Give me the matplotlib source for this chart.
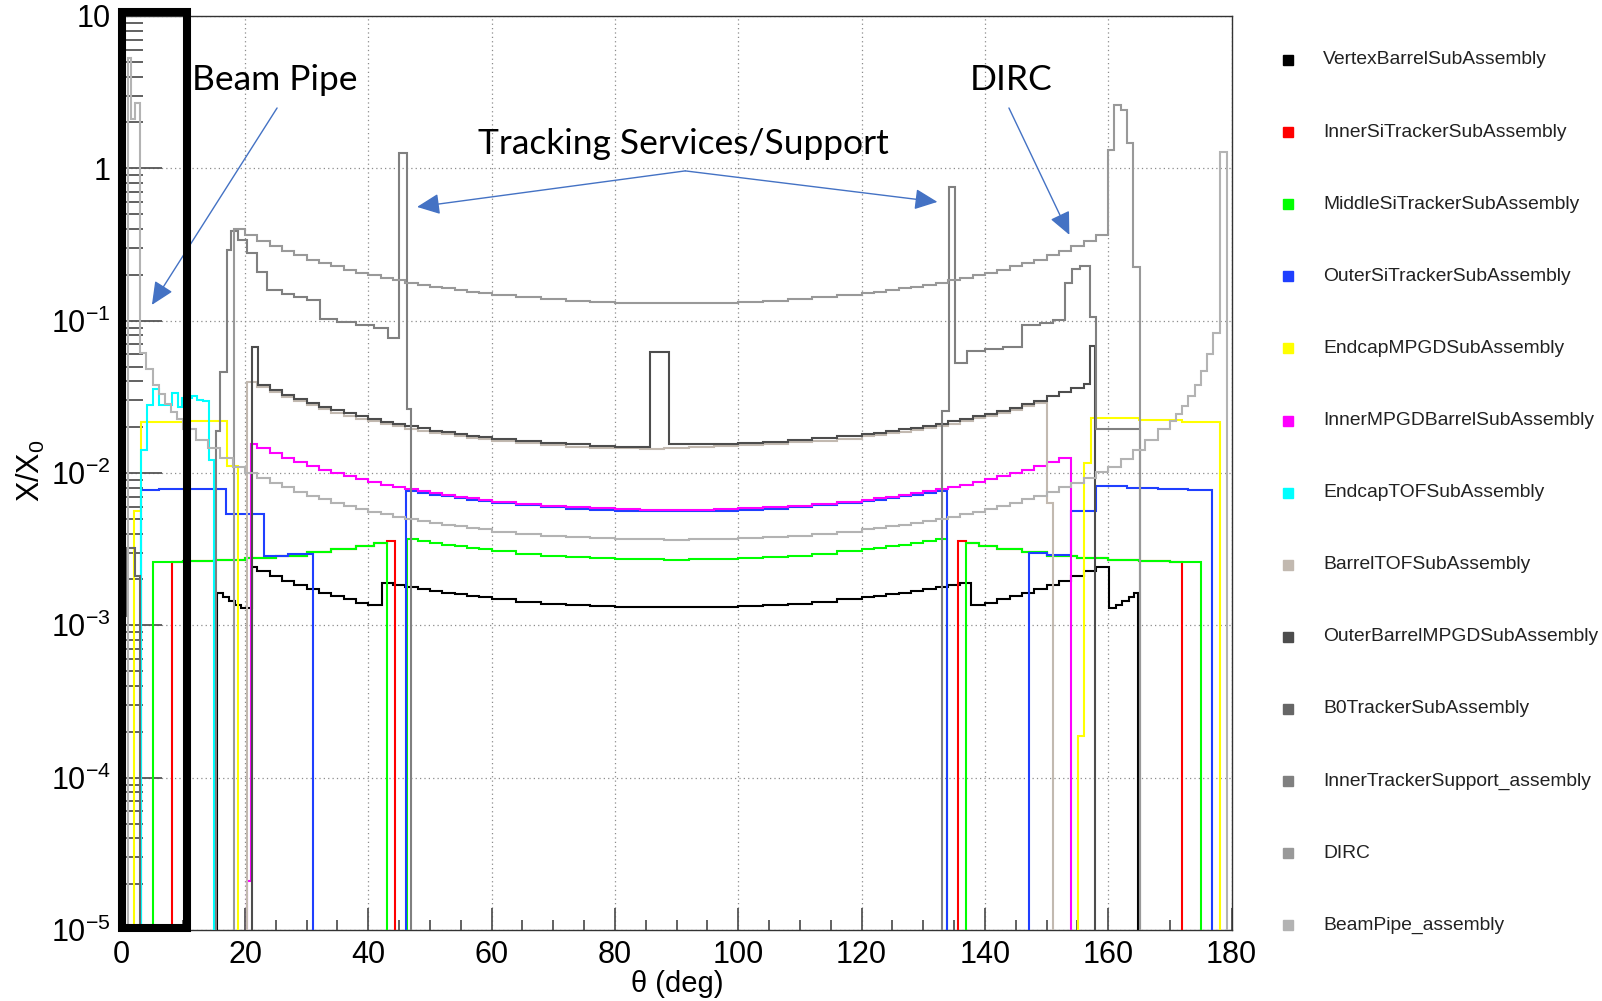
import numpy as np
import matplotlib
matplotlib.use("Agg")
import matplotlib.pyplot as plt
from matplotlib.lines import Line2D
from matplotlib.patches import Rectangle
from matplotlib.ticker import FixedLocator, LogLocator, NullFormatter, MultipleLocator

plt.rcParams['font.family'] = ['Liberation Sans', 'DejaVu Sans']
plt.rcParams['mathtext.fontset'] = 'custom'
plt.rcParams['mathtext.rm'] = 'Liberation Sans'
plt.rcParams['mathtext.it'] = 'Liberation Sans:italic'
plt.rcParams['mathtext.bf'] = 'Liberation Sans:bold'

# bin-edge grids (theta in deg)
G_L = list(range(22, 62, 2))    # 22..60
G_M = list(range(64, 124, 4))   # 64..120
G_R = list(range(122, 162, 2))  # 122..160

# all X/X0 values below are in units of 1e-3
vertex_edges = [0, 15.4, 16.4, 17.4, 18.4, 19.4, 21.1] + G_L[:10] + [42.2] + G_L[11:] + G_M \
    + G_R[:7] + [136, 137.8] + list(range(140, 160, 2)) + [160.2, 161.3, 162.3, 163.3, 164.2, 164.9, 180]
vertex_vals = [0, 1.64, 1.53, 1.45, 1.37, 1.30,
               2.42, 2.28, 2.11, 1.96, 1.84, 1.73, 1.63, 1.55, 1.48, 1.41, 1.35,
               1.91, 1.85, 1.79, 1.74, 1.69, 1.64, 1.60, 1.56, 1.53,
               1.48, 1.43, 1.39, 1.36, 1.34, 1.32, 1.31, 1.31, 1.31, 1.32, 1.34, 1.36, 1.39, 1.43, 1.48,
               1.53, 1.56, 1.60, 1.64, 1.69, 1.74, 1.79, 1.85, 1.91,
               1.35, 1.41, 1.48, 1.55, 1.63, 1.73, 1.84, 1.96, 2.11, 2.28,
               2.43, 1.30, 1.37, 1.45, 1.53, 1.64, 0]

innersi_edges = [0, 8.2, 10, 15, 20, 25, 30, 34, 38, 41, 43.1, 44.3, 135.7, 137.0,
                 139, 142, 146, 150, 155, 160, 165, 170, 171.9, 180]
innersi_vals = [0, 2.60, 2.63, 2.68, 2.75, 2.85, 3.02, 3.18, 3.30, 3.45, 3.6, 0,
                3.6, 3.45, 3.30, 3.18, 3.02, 2.85, 2.75, 2.68, 2.63, 2.60, 0]

middle_edges = [0, 5.0, 10, 15, 20, 25, 30, 34, 38, 41, 43.1, 46.3] + G_L[13:] + G_M + G_R[:6] \
    + [133.8, 137.0, 139, 142, 146, 150, 155, 160, 165, 170, 175.0, 180]
middle_vals = [0, 2.60, 2.63, 2.68, 2.75, 2.85, 3.02, 3.18, 3.30, 3.45, 0,
               3.68, 3.58, 3.47, 3.38, 3.30, 3.22, 3.15,
               3.06, 2.96, 2.87, 2.81, 2.76, 2.73, 2.71, 2.70, 2.71, 2.73, 2.76, 2.81, 2.87, 2.96, 3.06,
               3.15, 3.22, 3.30, 3.38, 3.47, 3.58, 3.68, 0,
               3.45, 3.30, 3.18, 3.02, 2.85, 2.75, 2.68, 2.63, 2.60, 0]

outer_edges = [0, 3.1, 6, 12, 16.9, 23.1, 27, 31.1, 46.1] + G_L[13:] + G_M + G_R[:6] \
    + [133.9, 147.1, 150, 154.0, 158.0, 163, 168, 173, 176.9, 180]
outer_vals = [0, 7.7, 7.8, 7.9, 5.4, 2.85, 2.95, 0,
              7.65, 7.42, 7.21, 7.01, 6.84, 6.68, 6.54,
              6.34, 6.13, 5.96, 5.83, 5.72, 5.65, 5.61, 5.60, 5.61, 5.65, 5.72, 5.83, 5.96, 6.13, 6.34,
              6.54, 6.68, 6.84, 7.01, 7.21, 7.42, 7.65, 0,
              3.0, 2.9, 5.6, 8.2, 8.0, 7.85, 7.7, 0]

endcapmpgd_edges = [0, 2.0, 3.1, 10, 17.0, 18.9, 155.1, 156.0, 157.2, 165, 172, 178.2, 180]
endcapmpgd_vals = [0, 5.6, 21.5, 22.0, 11.1, 0, 0.187, 11.7, 22.9, 22.2, 21.7, 0]

innermpgd_edges = [0, 20.3, 21.0] + G_L + G_M + G_R[:17] + [180]
innermpgd_vals = [0, 0.021, 15.6,
                  14.66, 13.56, 12.62, 11.82, 11.13, 10.52, 9.99, 9.52, 9.10, 8.73,
                  8.40, 8.10, 7.83, 7.59, 7.37, 7.17, 7.00, 6.83, 6.69,
                  6.49, 6.27, 6.10, 5.96, 5.86, 5.79, 5.74, 5.73, 5.74, 5.79, 5.86, 5.96, 6.10, 6.27, 6.49,
                  6.69, 6.83, 7.00, 7.17, 7.37, 7.59, 7.83, 8.10, 8.40, 8.73,
                  9.10, 9.52, 9.99, 10.52, 11.13, 11.82, 12.62, 0]

endcaptof_edges = [0, 3.1, 4.05, 5.1, 6.05, 8.1, 9.2, 9.7, 11.35, 12.2, 13.2, 14.2, 14.9, 180]
endcaptof_vals = [0, 14.2, 28.1, 35.6, 28.1, 33.7, 27.3, 31.3, 31.8, 30.2, 29.6, 12.2, 0]

barreltof_edges = [0, 20.3] + G_L + G_M + G_R[:15] + [151.1, 180]
barreltof_vals = [0, 39.6,
                  36.6, 33.8, 31.5, 29.5, 27.8, 26.3, 24.9, 23.8, 22.7, 21.8,
                  21.0, 20.2, 19.5, 18.9, 18.4, 17.9, 17.5, 17.0, 16.7,
                  16.2, 15.7, 15.2, 14.9, 14.6, 14.5, 14.4, 14.6, 14.9, 15.0, 15.2, 15.5, 15.9, 16.3, 16.8,
                  17.4, 17.8, 18.2, 18.7, 19.2, 19.8, 20.4, 21.1, 21.9, 22.8,
                  23.7, 24.8, 26.0, 27.4, 29.0, 6.4, 0]

outermpgd_edges = [0, 21.1, 22.1] + G_L[1:] + [64, 68, 72, 76, 80, 84, 85.7, 88.7, 92, 96, 100, 104, 108, 112, 116, 120] \
    + G_R[:18] + [157.1, 157.8, 180]
outermpgd_vals = [0, 67, 37.9,
                  35.0, 32.6, 30.5, 28.7, 27.2, 25.8, 24.6, 23.5, 22.6,
                  21.7, 20.9, 20.2, 19.6, 19.0, 18.5, 18.1, 17.6, 17.3,
                  16.8, 16.2, 15.7, 15.4, 15.1, 14.9, 14.8, 62,
                  15.4, 15.4, 15.5, 15.7, 16.0, 16.4, 16.9, 17.4,
                  18.0, 18.4, 18.8, 19.3, 19.8, 20.4, 21.1, 21.8, 22.6,
                  23.5, 24.5, 25.6, 26.8, 28.3, 29.9, 31.8, 33.9, 36.4,
                  38.6, 68, 0]

b0_edges = [0, 0.7, 2.2, 3.0, 180]
b0_vals = [1.16, 3.2, 2.1, 0]

support_edges = [0, 15.3, 16.0, 17.0, 17.8, 18.9, 20.3, 21.9, 23.5, 26, 28, 30, 32.2, 35, 38, 41, 43.2,
                 44.9, 46.2, 47.0, 133.0, 134.1, 135.2, 137.1, 140, 143, 146, 149, 151, 153,
                 154.1, 155.5, 157.1, 158.0, 165.1, 180]
support_vals = [0, 19, 46, 290, 390, 340, 280, 210, 158, 150, 143, 136, 102, 98, 94, 90,
                77, 1260, 26.4, 0, 25.5, 750, 52.7, 63, 65, 67, 93, 97, 101,
                178, 218, 228, 106, 19.5, 0]

dirc_edges = [0, 18.2, 20] + G_L + G_M + G_R + [161, 162, 163, 164.1, 165.1, 180]
dirc_vals = [0, 400, 363,
             333, 308, 286, 268, 252, 239, 227, 216, 207, 198,
             191, 184, 178, 172, 167, 163, 159, 155, 152,
             147, 142, 138, 135, 133, 131, 130, 130, 130, 131, 133, 135, 138, 142, 147,
             152, 155, 159, 163, 167, 172, 178, 184, 191, 198,
             207, 216, 227, 239, 252, 268, 286, 308, 333, 363,
             1320, 2610, 2410, 1460, 225, 0]

beampipe_edges = [0, 1.07, 1.46, 2.16, 2.97, 4, 5, 6, 7, 8, 9, 10, 12, 14, 16, 18, 20] + G_L + G_M + G_R \
    + [162, 164, 166, 168, 170, 171, 172, 173, 174, 175, 176, 177, 178.2, 179.2, 180]
beampipe_vals = [0, 5300, 2100, 2700, 61, 48, 38, 33, 28.5, 25, 22.5, 19.5, 16.5, 14.5, 12.5, 11.0, 10.0,
                 9.34, 8.64, 8.04, 7.53, 7.09, 6.70, 6.36, 6.07, 5.80, 5.56,
                 5.35, 5.16, 4.99, 4.84, 4.70, 4.57, 4.46, 4.35, 4.26,
                 4.13, 4.00, 3.88, 3.80, 3.73, 3.69, 3.66, 3.65, 3.66, 3.69, 3.73, 3.80, 3.88, 4.00, 4.13,
                 4.26, 4.35, 4.46, 4.57, 4.70, 4.84, 4.99, 5.16, 5.35, 5.56,
                 5.80, 6.07, 6.36, 6.70, 7.09, 7.53, 8.04, 8.64, 9.34, 10.2,
                 11.0, 12.3, 14.2, 16.4, 19.5, 22.0, 24.5, 27.5, 32, 38, 47, 60, 83, 1280, 0]

names = ['VertexBarrelSubAssembly', 'InnerSiTrackerSubAssembly', 'MiddleSiTrackerSubAssembly',
         'OuterSiTrackerSubAssembly', 'EndcapMPGDSubAssembly', 'InnerMPGDBarrelSubAssembly',
         'EndcapTOFSubAssembly', 'BarrelTOFSubAssembly', 'OuterBarrelMPGDSubAssembly',
         'B0TrackerSubAssembly', 'InnerTrackerSupport_assembly', 'DIRC', 'BeamPipe_assembly']
colors = ['#000000', '#ff0000', '#00ff00', '#1f3fff', '#ffff00', '#ff00ff', '#00ffff',
          '#c2b9b0', '#4d4d4d', '#666666', '#808080', '#999999', '#b3b3b3']
series = [(vertex_edges, vertex_vals), (innersi_edges, innersi_vals), (middle_edges, middle_vals),
          (outer_edges, outer_vals), (endcapmpgd_edges, endcapmpgd_vals), (innermpgd_edges, innermpgd_vals),
          (endcaptof_edges, endcaptof_vals), (barreltof_edges, barreltof_vals),
          (outermpgd_edges, outermpgd_vals), (b0_edges, b0_vals), (support_edges, support_vals),
          (dirc_edges, dirc_vals), (beampipe_edges, beampipe_vals)]

fig = plt.figure(figsize=(16.02, 10.01), dpi=100)
ax = fig.add_axes([0.07597, 0.07093, 0.69276, 0.91309])

for (edges, vals), col in zip(series, colors):
    v = np.asarray(vals, float) * 1e-3
    v = np.where(v > 0, v, 1e-12)  # empty bins drop to the floor like in ROOT
    ax.stairs(v, edges, baseline=None, color=col, lw=1.5, zorder=3)

ax.set_xlim(0, 180)
ax.set_yscale('log')
ax.set_ylim(1e-5, 10)

ax.xaxis.set_major_locator(MultipleLocator(20))
ax.xaxis.set_minor_locator(MultipleLocator(5))
ax.yaxis.set_major_locator(FixedLocator([1e-5, 1e-4, 1e-3, 1e-2, 1e-1, 1, 10]))
ax.set_yticklabels(['$10^{-5}$', '$10^{-4}$', '$10^{-3}$', '$10^{-2}$', '$10^{-1}$', '1', '10'])
ax.yaxis.set_minor_locator(LogLocator(base=10, subs=np.arange(2, 10), numticks=20))
ax.yaxis.set_minor_formatter(NullFormatter())

ax.tick_params(axis='both', which='both', direction='in', color='#555555', width=1.3, labelsize=22)
ax.tick_params(axis='x', which='major', length=16, pad=7)
ax.tick_params(axis='x', which='minor', length=7.5)
ax.tick_params(axis='y', which='major', length=29, pad=8)
ax.tick_params(axis='y', which='minor', length=15)

ax.grid(True, which='major', color='#8c8c8c', ls=(0, (1, 2.5)), lw=0.9, zorder=1)
for s in ax.spines.values():
    s.set_color('#333333')
    s.set_linewidth(1.0)

fig.text(0.0193, 0.530, 'X/X$_0$', rotation=90, fontsize=22, ha='center', va='center')
fig.text(0.4226, 0.017, 'θ (deg)', fontsize=21, ha='center', va='center')

# legend on the right
for i, (name, col) in enumerate(zip(names, colors)):
    yy = 1 - (60 + i * 72.1) / 1001
    fig.add_artist(Line2D([1288 / 1602], [yy], marker='s', ms=7, color=col, mec=col,
                          ls='none', transform=fig.transFigure))
    fig.text(1323 / 1602, yy, name, fontsize=13.9, ha='left', va='center', color='#222222')

# slide annotations
ann_font = dict(family=['Lato', 'DejaVu Sans'], fontsize=25.5, va='baseline', ha='left', zorder=6)
ax.text(11.4, 3.27, 'Beam Pipe', **ann_font)
ax.text(137.5, 3.27, 'DIRC', **ann_font)
ax.text(57.8, 1.243, 'Tracking Services/Support', **ann_font)

arrow = dict(arrowstyle='-|>,head_length=0.7,head_width=0.32', color='#4472c4', lw=1.0,
             shrinkA=0, shrinkB=0, mutation_scale=20)
ax.annotate('', xy=(4.9, 0.127), xytext=(25.2, 2.49), arrowprops=arrow, zorder=6)
ax.annotate('', xy=(47.9, 0.558), xytext=(91.4, 0.962), arrowprops=arrow, zorder=6)
ax.annotate('', xy=(132.3, 0.602), xytext=(91.4, 0.962), arrowprops=arrow, zorder=6)
ax.annotate('', xy=(153.7, 0.366), xytext=(143.9, 2.49), arrowprops=arrow, zorder=6)

# black highlight box over the forward region
y0, y1 = 10 ** -4.99, 10 ** 1.023
ax.add_patch(Rectangle((0, y0), 10.67, y1 - y0, fill=False, ec='black', lw=5.8,
                       clip_on=False, zorder=8))

fig.savefig('out.png', dpi=100)
